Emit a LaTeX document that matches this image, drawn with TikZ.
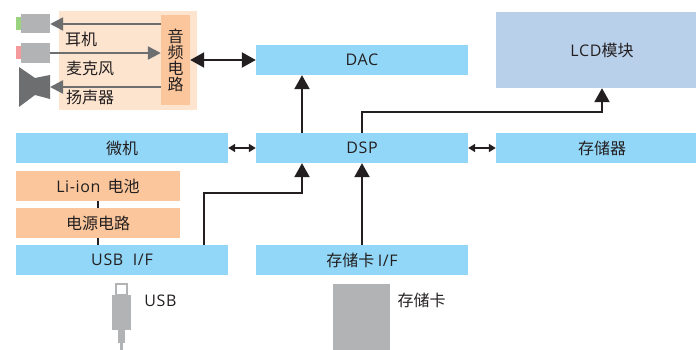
\documentclass[tikz,border=0pt]{standalone}
\usepackage{fontspec}
\setmainfont{Noto Sans CJK SC}
\newfontfamily\latinfont[LetterSpace=4]{Open Sans}
\usepackage{tikz}
\usetikzlibrary{positioning,arrows.meta}
\definecolor{blockblue}{HTML}{92D7F7}
\definecolor{powerorange}{HTML}{FBC69C}
\definecolor{panelorange}{HTML}{FDE4CF}
\definecolor{lcdblue}{HTML}{B9D0EA}
\definecolor{partgray}{HTML}{B2B3B5}
\definecolor{arrowgray}{HTML}{6D6E70}
\definecolor{linedark}{HTML}{231F20}
\definecolor{phonegreen}{HTML}{9BD27F}
\definecolor{micpink}{HTML}{F59A9C}
\tikzset{
  every node/.style={
    inner sep=0pt,
    font=\fontsize{16}{16}\selectfont,
    text=linedark
  },
  blockbox/.style={
    on grid,
    fill=blockblue,
    minimum width=212pt,
    minimum height=30pt
  },
  powerbox/.style={
    on grid,
    fill=powerorange,
    minimum width=164pt,
    minimum height=30pt
  },
  partbox/.style={
    on grid,
    fill=partgray
  },
  busline/.style={
    draw=linedark,
    line width=2.4pt,
    -{Triangle[width=15pt,length=14pt]}
  },
  twoway/.style={
    draw=linedark,
    line width=2.4pt,
    {Triangle[width=15pt,length=14pt]}-{Triangle[width=15pt,length=14pt]}
  },
  smallway/.style={
    draw=linedark,
    line width=1.8pt,
    {Triangle[width=8pt,length=7pt]}-{Triangle[width=8pt,length=7pt]}
  },
  audioline/.style={
    draw=arrowgray,
    line width=2.4pt,
    -{Triangle[width=13pt,length=13pt]}
  }
}

\begin{document}
\begin{tikzpicture}
      \useasboundingbox (0,0) rectangle (696pt,-350pt);

      \node[blockbox] (DSP) at (362pt,-148pt) {\latinfont DSP};
      \node[blockbox, above=88pt of DSP] (DAC) {\latinfont DAC};
      \node[blockbox, left=240pt of DSP] (MCU) {微机};
      \node[blockbox, right=240pt of DSP] (Memory) {存储器};
      \node[on grid, fill=lcdblue, minimum width=212pt, minimum height=76pt, above=98pt of Memory] (LCD) {{\latinfont LCD}模块};
      \node[blockbox, below=112pt of DSP] (CardIF) {存储卡 {\latinfont I/F}};
      \node[blockbox, below=112pt of MCU] (USBIF) {\latinfont USB\ \ I/F};
      \node[powerbox, above left=37pt and 24pt of USBIF] (Power) {电源电路};
      \node[powerbox, above=37pt of Power] (Battery) {{\latinfont Li-ion}\ \ 电池};

      \node[on grid, fill=panelorange, minimum width=138pt, minimum height=99pt] (Panel) at (128pt,-60.5pt) {};
      \node[on grid, fill=powerorange, minimum width=29pt, minimum height=90pt, align=center] (Audio) at (175.5pt,-60pt) {音\\频\\电\\路};

      \node[partbox, minimum width=29pt, minimum height=19pt] (Phone) at (35.5pt,-24pt) {};
      \node[on grid, fill=phonegreen, minimum width=5pt, minimum height=13pt, left=17pt of Phone] (PhoneTip) {};
      \node[partbox, minimum width=29pt, minimum height=20pt, below=29pt of Phone] (Mic) {};
      \node[on grid, fill=micpink, minimum width=5pt, minimum height=13pt, left=17pt of Mic] (MicTip) {};
      \coordinate (SpeakerMouth) at (50pt,-87pt);
      \fill[arrowgray] (19pt,-67pt) -- (35pt,-78pt) -- (50pt,-75pt) -- (50pt,-99pt) -- (35pt,-95pt) -- (19pt,-107pt) -- cycle;

      \node (PhoneText) at (81pt,-39pt) {耳机};
      \node (MicText) at (90pt,-68pt) {麦克风};
      \node (SpeakerText) at (90pt,-97pt) {扬声器};

      \node[partbox, minimum width=19pt, minimum height=35pt] (UsbBody) at (121.5pt,-312.5pt) {};
      \node[on grid, draw=partgray, line width=2pt, fill=white, minimum width=11pt, minimum height=11pt, above=23.5pt of UsbBody] (UsbHead) {};
      \node[partbox, minimum width=7pt, minimum height=13pt, below=24pt of UsbBody] (UsbNeck) {};
      \node[partbox, minimum width=3pt, minimum height=7pt, below=10pt of UsbNeck] (UsbTip) {};
      \node[on grid, right=39pt of UsbBody, yshift=11.5pt] (UsbText) {\latinfont USB};
      \node[partbox, minimum width=57pt, minimum height=66pt] (Card) at (361.5pt,-317pt) {};
      \node[on grid, right=60pt of Card, yshift=17pt] (CardText) {存储卡};

      \draw[audioline] (Audio.west |- Phone.east) to (Phone.east);
      \draw[audioline] (Mic.east) to (Mic -| Audio.west);
      \draw[audioline] (Audio.west |- SpeakerMouth) to (SpeakerMouth);

      \draw[twoway] (Audio.east) to (DAC.west);
      \draw[smallway] (MCU) to (DSP);
      \draw[smallway] (DSP) to (Memory);
      \draw[busline] ([xshift=-60pt]DSP.north) to ([xshift=-60pt]DAC.south);
      \draw[busline] (DSP.north) to++(0,21pt) -| (LCD.south);
      \draw[busline] (CardIF.north) to (DSP.south);
      \draw[busline] ([xshift=82pt]USBIF.north) to++(0,52pt) -| ([xshift=-60pt]DSP.south);
      \draw[draw=linedark, line width=2.4pt] (Battery) to (Power);
      \draw[draw=linedark, line width=2.4pt] (Power.south) to (Power.south |- USBIF.north);
\end{tikzpicture}
\end{document}
